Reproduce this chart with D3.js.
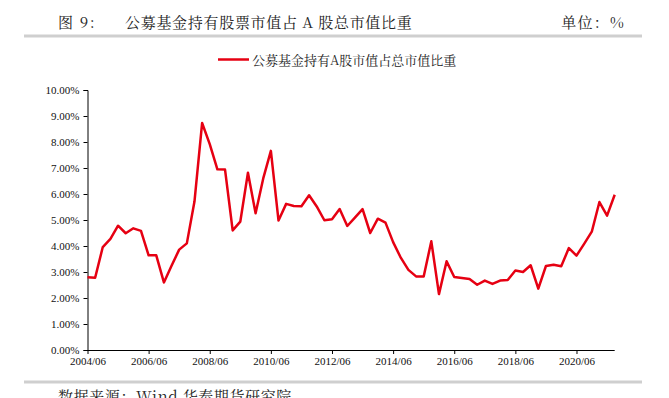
<!DOCTYPE html>
<html>
<head>
<meta charset="utf-8">
<script src="https://cdn.jsdelivr.net/npm/d3@7"></script>
<style>
  body { margin: 0; background: #fff; }
  svg { display: block; }
</style>
</head>
<body>
<div id="chart"></div>
<script>
// quarterly share of A-share market cap held by public funds (%)
const shareValues = [
  2.80, 2.78, 3.96, 4.27, 4.78, 4.49, 4.68, 4.58, 3.64, 3.64,
  2.60, 3.24, 3.86, 4.10, 5.71, 8.73, 7.92, 6.95, 6.94, 4.60,
  4.94, 6.82, 5.26, 6.60, 7.66, 4.98, 5.62, 5.54, 5.53, 5.95,
  5.52, 4.99, 5.03, 5.42, 4.77, 5.09, 5.42, 4.50, 5.05, 4.90,
  4.15, 3.55, 3.08, 2.83, 2.83, 4.18, 2.15, 3.41, 2.81, 2.77,
  2.73, 2.51, 2.67, 2.54, 2.67, 2.69, 3.06, 3.00, 3.26, 2.36,
  3.23, 3.28, 3.22, 3.92, 3.63, 4.08, 4.55, 5.69, 5.17, 5.97
];

const quarterEnds = ["03", "06", "09", "12"];
const categories = [];
for (let k = 0; k < shareValues.length; k++) {
  const q = 1 + k;              // first point is 2004/06
  const year = 2004 + Math.floor(q / 4);
  categories.push(year + "/" + quarterEnds[q % 4]);
}

const tickLabels = ["2004/06", "2006/06", "2008/06", "2010/06", "2012/06",
                    "2014/06", "2016/06", "2018/06", "2020/06"];
const yTicks = [0, 1, 2, 3, 4, 5, 6, 7, 8, 9, 10];

const seriesName = "公募基金持有A股市值占总市值比重";
const titleNo = "图 9:";
const titleText = "公募基金持有股票市值占 A 股总市值比重";
const unitText = "单位：%";
const sourceText = "数据来源：Wind  华泰期货研究院";

const W = 669, H = 398;
const red = "#e60012";
const cjk = "'Noto Serif CJK SC', 'Noto Sans CJK SC', serif";
const serif = "'Liberation Serif', 'Times New Roman', serif";

const svg = d3.select("#chart").append("svg")
    .attr("width", W)
    .attr("height", H);

// header
svg.append("text")
    .attr("x", 58).attr("y", 28)
    .style("font-family", cjk).style("font-size", "15px")
    .style("letter-spacing", "1.5px")
    .attr("fill", "#222")
    .text(titleNo);

svg.append("text")
    .attr("x", 125).attr("y", 28)
    .style("font-family", cjk).style("font-size", "15px")
    .style("letter-spacing", "0.7px")
    .attr("fill", "#222")
    .text(titleText);

svg.append("text")
    .attr("x", 625).attr("y", 28)
    .attr("text-anchor", "end")
    .style("font-family", cjk).style("font-size", "15px")
    .style("letter-spacing", "1.2px")
    .attr("fill", "#222")
    .text(unitText);

svg.append("rect")
    .attr("x", 24).attr("y", 34.5)
    .attr("width", 618).attr("height", 3)
    .attr("fill", "#cfcfcf");

// legend
svg.append("line")
    .attr("x1", 218).attr("x2", 249)
    .attr("y1", 59.5).attr("y2", 59.5)
    .attr("stroke", red).attr("stroke-width", 2.5);

svg.append("text")
    .attr("x", 252).attr("y", 64.5)
    .style("font-family", cjk).style("font-size", "13px")
    .attr("fill", "#222")
    .text(seriesName);

// scales
const x = d3.scalePoint()
    .domain(categories)
    .range([87.5, 614.7]);

const y = d3.scaleLinear()
    .domain([0, 10])
    .range([350, 90]);

// axes
const yAxis = svg.append("g")
    .attr("transform", "translate(87.5,0)")
    .call(d3.axisLeft(y).tickValues(yTicks).tickSize(4).tickPadding(4)
      .tickFormat(d => (d).toFixed(2) + "%"));

const xAxis = svg.append("g")
    .attr("transform", "translate(0,350)")
    .call(d3.axisBottom(x).tickValues(tickLabels).tickSize(4).tickPadding(3));

[yAxis, xAxis].forEach(g => {
  g.select(".domain").attr("stroke", "#000");
  g.selectAll(".tick line").attr("stroke", "#000");
  g.selectAll("text")
      .style("font-family", serif)
      .style("font-size", "11px")
      .attr("fill", "#111");
});
xAxis.select(".domain").attr("d", "M87.5,0.5H614.7");

// line
const line = d3.line()
    .x((d, i) => x(categories[i]))
    .y(d => y(d));

svg.append("path")
    .datum(shareValues)
    .attr("fill", "none")
    .attr("stroke", red)
    .attr("stroke-width", 2.5)
    .attr("stroke-linejoin", "round")
    .attr("d", line);

// footer
svg.append("rect")
    .attr("x", 24).attr("y", 380.5)
    .attr("width", 618).attr("height", 3)
    .attr("fill", "#cfcfcf");

svg.append("text")
    .attr("x", 58).attr("y", 402)
    .style("font-family", cjk).style("font-size", "15px")
    .style("letter-spacing", "0.6px")
    .attr("fill", "#222")
    .text(sourceText);
</script>
</body>
</html>
